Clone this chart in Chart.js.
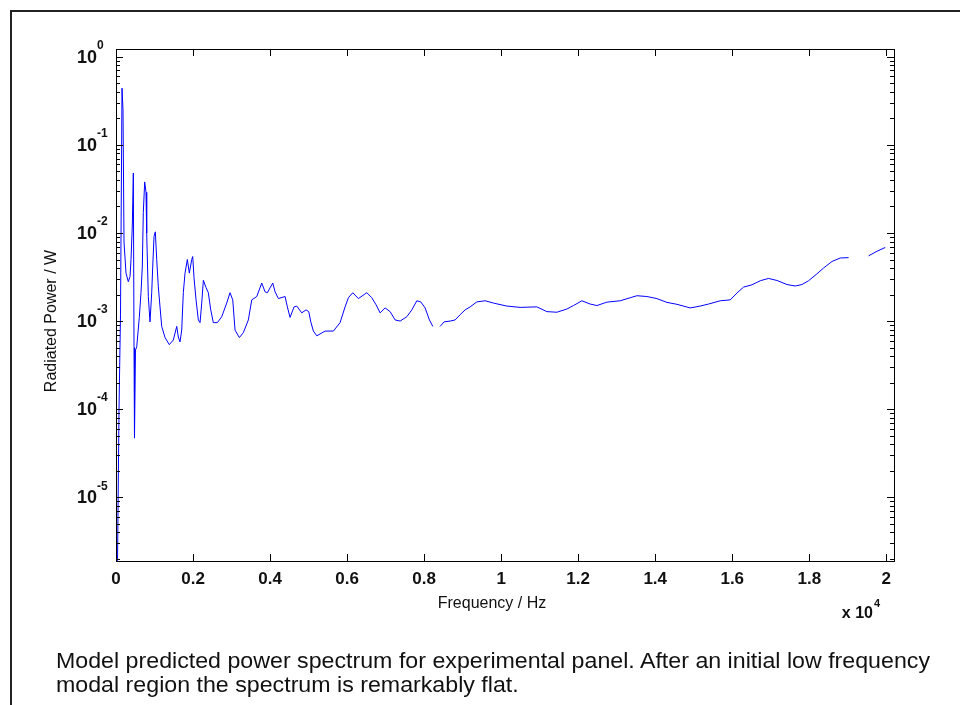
<!DOCTYPE html>
<html>
<head>
<meta charset="utf-8">
<script src="https://cdn.jsdelivr.net/npm/chart.js@4"></script>
<style>
  html, body { margin: 0; padding: 0; background: #fff; }
  #wrap { position: relative; width: 960px; height: 705px; overflow: hidden; }
  #myChart { position: absolute; left: 0; top: 0; }
  .frame-top { position: absolute; left: 10px; top: 10px; width: 950px; height: 2px; background: #222; }
  .frame-left { position: absolute; left: 10px; top: 10px; width: 2px; height: 695px; background: #222; }
  .caption { position: absolute; left: 56px; font-family: "Liberation Sans Narrow", "Liberation Sans", Arial, sans-serif;
             font-size: 22px; color: #111; white-space: nowrap; transform-origin: 0 0; line-height: 24px; }
</style>
</head>
<body>
<div id="wrap">
  <canvas id="myChart" width="960" height="705"></canvas>
  <div class="frame-top"></div>
  <div class="frame-left"></div>
  <div class="caption" id="cap1" style="top: 649px;">Model predicted power spectrum for experimental panel. After an initial low frequency</div>
  <div class="caption" id="cap2" style="top: 673px;">modal region the spectrum is remarkably flat.</div>
</div>
<script>
// frequency (Hz) and radiated power (W); null = break in the trace
const freqHz = [40, 78, 117, 156, 182, 208, 260, 319, 364, 390, 423, 450, 468, 480, 506, 538, 605, 649, 683, 709,
  745, 779, 797, 839, 883, 927, 953, 987, 1021, 1057, 1099, 1143, 1187, 1273, 1384, 1488, 1577, 1618, 1662, 1706,
  1748, 1792, 1852, 1904, 1966, 1992, 2026, 2078, 2138, 2182, 2226, 2268, 2338, 2397, 2460, 2527, 2631, 2745, 2875, 2961,
  3031, 3091, 3203, 3307, 3436, 3525, 3655, 3784, 3870, 3930, 4070, 4130, 4216, 4390, 4449, 4519, 4623, 4693, 4823, 4935,
  5005, 5057, 5125, 5213, 5429, 5644, 5818, 5948, 6034, 6148, 6294, 6512, 6642, 6753, 6857, 6987, 7117, 7247, 7377, 7551,
  7681, 7810, 7914, 8026, 8138, 8226, 8320, 8416, 8519, 8675, 8805, 8935, 9065, 9195, 9369, 9584, 9800, 10148, 10494, 10927,
  11187, 11447, 11706, 11878, 12096, 12312, 12486, 12745, 13091, 13351, 13525, 13784, 14044, 14304, 14564, 14909, 15169, 15384, 15688, 15948,
  16122, 16294, 16512, 16727, 16943, 17161, 17421, 17636, 17810, 17982, 18200, 18371, 18590, 18805, 19021, 19300, 19540, 19758, 19974];

const powerW = [1.9e-6, 1.0e-4, 1.2e-3, 0.44, 0.25, 7.9e-3, 3.5e-3, 2.8e-3, 3.2e-3, 5.0e-3, 1.2e-2, 4.8e-2, 5.0e-4, 4.7e-5, 4.7e-4, 5.1e-4, 1.1e-3, 2.1e-3, 4.1e-3, 1.7e-2,
  3.8e-2, 2.9e-2, 1.0e-2, 1.9e-3, 9.8e-4, 2.1e-3, 4.1e-3, 9.1e-3, 1.03e-2, 5.0e-3, 2.45e-3, 1.45e-3, 8.7e-4, 6.5e-4, 5.4e-4, 6.1e-4, 8.7e-4, 6.6e-4, 5.8e-4, 7.9e-4,
  2.1e-3, 3.5e-3, 5.0e-3, 3.5e-3, 5.0e-3, 5.4e-3, 3.1e-3, 1.74e-3, 1.03e-3, 9.6e-4, 1.6e-3, 2.9e-3, 2.4e-3, 2.1e-3, 1.34e-3, 9.6e-4, 9.6e-4, 1.12e-3, 1.6e-3, 2.1e-3,
  1.74e-3, 7.9e-4, 6.5e-4, 7.4e-4, 1.03e-3, 1.74e-3, 1.9e-3, 2.7e-3, 2.15e-3, 2.1e-3, 2.7e-3, 2.15e-3, 1.8e-3, 1.9e-3, 1.45e-3, 1.1e-3, 1.45e-3, 1.48e-3, 1.24e-3, 1.34e-3,
  1.28e-3, 9.8e-4, 7.7e-4, 6.8e-4, 7.7e-4, 7.7e-4, 9.6e-4, 1.45e-3, 1.84e-3, 2.1e-3, 1.8e-3, 2.1e-3, 1.84e-3, 1.53e-3, 1.24e-3, 1.41e-3, 1.28e-3, 1.03e-3, 1.0e-3, 1.12e-3,
  1.34e-3, 1.7e-3, 1.65e-3, 1.41e-3, 1.03e-3, 8.7e-4, null, 8.7e-4, 9.8e-4, 1.0e-3, 1.03e-3, 1.18e-3, 1.34e-3, 1.45e-3, 1.65e-3, 1.7e-3, 1.6e-3, 1.48e-3, 1.43e-3, 1.45e-3,
  1.28e-3, 1.26e-3, 1.37e-3, 1.5e-3, 1.7e-3, 1.56e-3, 1.5e-3, 1.64e-3, 1.7e-3, 1.84e-3, 1.94e-3, 1.9e-3, 1.8e-3, 1.63e-3, 1.55e-3, 1.41e-3, 1.48e-3, 1.56e-3, 1.7e-3, 1.74e-3,
  2.08e-3, 2.43e-3, 2.58e-3, 2.87e-3, 3.05e-3, 2.89e-3, 2.6e-3, 2.5e-3, 2.6e-3, 2.87e-3, 3.44e-3, 4.0e-3, 4.75e-3, 5.2e-3, 5.25e-3, null, 5.5e-3, 6.2e-3, 6.85e-3];

// axis ticks
const xTickValues = [0, 2000, 4000, 6000, 8000, 10000, 12000, 14000, 16000, 18000, 20000];
const xTickLabels = ["0", "0.2", "0.4", "0.6", "0.8", "1", "1.2", "1.4", "1.6", "1.8", "2"];
const yTickExponents = [0, -1, -2, -3, -4, -5];

const labelFont = '"Liberation Sans", Arial, sans-serif';

// MATLAB-style box: inward ticks on all four sides, 10^n labels
const axesBox = {
  id: "axesBox",
  afterDraw(chart) {
    const { ctx, chartArea: a, scales: { x, y } } = chart;
    ctx.save();
    ctx.strokeStyle = "#000";
    ctx.lineWidth = 1;
    ctx.strokeRect(Math.round(a.left) + 0.5, Math.round(a.top) + 0.5, Math.round(a.right - a.left), Math.round(a.bottom - a.top));

    ctx.beginPath();
    xTickValues.forEach(v => {
      const px = Math.round(x.getPixelForValue(v)) + 0.5;
      ctx.moveTo(px, a.bottom); ctx.lineTo(px, a.bottom - 7);
      ctx.moveTo(px, a.top); ctx.lineTo(px, a.top + 7);
    });
    for (let e = -6; e <= 0; e++) {
      for (let m = 1; m <= 9; m++) {
        const v = m * Math.pow(10, e);
        if (v < y.min || v > y.max) continue;
        const py = Math.round(y.getPixelForValue(v)) + 0.5;
        const len = m === 1 ? 7 : 4;
        ctx.moveTo(a.left, py); ctx.lineTo(a.left + len, py);
        ctx.moveTo(a.right, py); ctx.lineTo(a.right - len, py);
      }
    }
    ctx.stroke();

    ctx.fillStyle = "#111";
    // x tick labels
    ctx.font = "bold 17px " + labelFont;
    ctx.textAlign = "center";
    ctx.textBaseline = "top";
    xTickValues.forEach((v, i) => ctx.fillText(xTickLabels[i], x.getPixelForValue(v), a.bottom + 10));

    // y tick labels
    yTickExponents.forEach(e => {
      const py = y.getPixelForValue(Math.pow(10, e));
      ctx.font = "bold 18px " + labelFont;
      ctx.textAlign = "right";
      ctx.textBaseline = "middle";
      ctx.fillText("10", 97, py + 1);
      ctx.font = "bold 12px " + labelFont;
      ctx.textAlign = "left";
      ctx.fillText(String(e), 97, py - 11);
    });

    // axis titles
    ctx.font = "16px " + labelFont;
    ctx.textAlign = "center";
    ctx.textBaseline = "middle";
    ctx.fillText("Frequency / Hz", 492, 604);
    ctx.save();
    ctx.translate(52, 321);
    ctx.rotate(-Math.PI / 2);
    ctx.fillText("Radiated Power / W", 0, 0);
    ctx.restore();

    // x multiplier
    ctx.font = "bold 16px " + labelFont;
    ctx.textAlign = "right";
    ctx.fillText("x 10", 873, 614);
    ctx.font = "bold 11px " + labelFont;
    ctx.textAlign = "left";
    ctx.fillText("4", 874, 604);
    ctx.restore();
  }
};

const ctx = document.getElementById("myChart");

new Chart(ctx, {
  type: "line",
  data: {
    datasets: [{
      label: "Radiated Power / W",
      data: freqHz.map((f, i) => ({ x: f, y: powerW[i] })),
      borderColor: "#0000ff",
      borderWidth: 1,
      pointRadius: 0,
      tension: 0,
      spanGaps: false,
    }],
  },
  options: {
    responsive: false,
    animation: false,
    layout: { padding: { left: 116, top: 49, right: 66, bottom: 144 } },
    plugins: { legend: { display: false }, tooltip: { enabled: false } },
    scales: {
      x: { type: "linear", min: 0, max: 20200, display: false },
      y: { type: "logarithmic", min: 1.89e-6, max: 1.226, display: false },
    },
  },
  plugins: [axesBox],
});

// stretch the caption so line 1 runs the full width of the panel
const cap1 = document.getElementById("cap1");
const cap2 = document.getElementById("cap2");
const sx = 874 / cap1.getBoundingClientRect().width;
cap1.style.transform = cap2.style.transform = "scaleX(" + sx + ")";
</script>
</body>
</html>
